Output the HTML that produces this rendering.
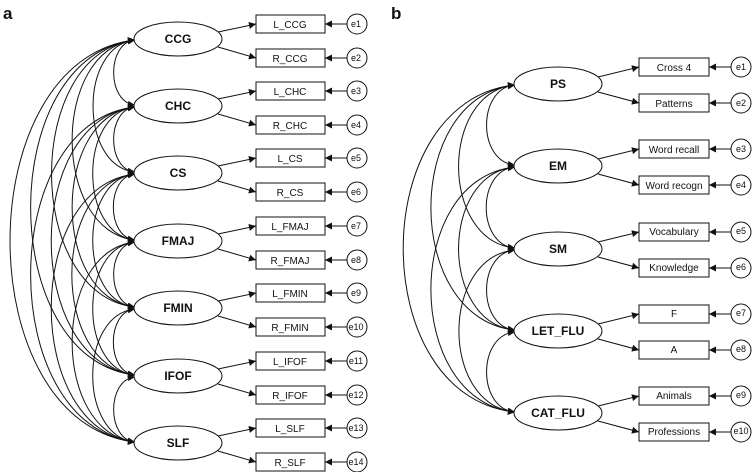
<!DOCTYPE html>
<html><head><meta charset="utf-8"><style>
body{margin:0;background:#fff}
svg{display:block}
text{font-family:"Liberation Sans",sans-serif;fill:#111}
.f{font-weight:bold;font-size:12px}
.m{font-size:10px}
.e{font-size:9px}
</style></head><body>
<svg id="s" width="753" height="472" viewBox="0 0 753 472" xmlns="http://www.w3.org/2000/svg">
<defs>
<marker id="ar" viewBox="0 0 10 10" refX="10" refY="5" markerWidth="9" markerHeight="7" markerUnits="userSpaceOnUse" orient="auto-start-reverse"><path d="M0,0L10,5L0,10z" fill="#111"/></marker>
</defs>
<g id="lines" fill="none" stroke="#111" stroke-width="1"></g>
<text x="3" y="19" style="font-weight:bold;font-size:17px">a</text>
<text x="391" y="19" style="font-weight:bold;font-size:17px">b</text>
<g id="shapes"></g>
<g text-anchor="middle">
<text class="f" x="178" y="43">CCG</text>
<text class="f" x="178" y="110">CHC</text>
<text class="f" x="178" y="177">CS</text>
<text class="f" x="178" y="245">FMAJ</text>
<text class="f" x="178" y="312">FMIN</text>
<text class="f" x="178" y="380">IFOF</text>
<text class="f" x="178" y="447">SLF</text>
<text class="m" x="290" y="28">L_CCG</text><text class="m" x="290" y="62">R_CCG</text>
<text class="m" x="290" y="95">L_CHC</text><text class="m" x="290" y="129">R_CHC</text>
<text class="m" x="290" y="162">L_CS</text><text class="m" x="290" y="196">R_CS</text>
<text class="m" x="290" y="230">L_FMAJ</text><text class="m" x="290" y="264">R_FMAJ</text>
<text class="m" x="290" y="297">L_FMIN</text><text class="m" x="290" y="331">R_FMIN</text>
<text class="m" x="290" y="365">L_IFOF</text><text class="m" x="290" y="399">R_IFOF</text>
<text class="m" x="290" y="432">L_SLF</text><text class="m" x="290" y="466">R_SLF</text>
<text class="e" x="356" y="27">e1</text><text class="e" x="356" y="61">e2</text>
<text class="e" x="356" y="94">e3</text><text class="e" x="356" y="128">e4</text>
<text class="e" x="356" y="161">e5</text><text class="e" x="356" y="195">e6</text>
<text class="e" x="356" y="229">e7</text><text class="e" x="356" y="263">e8</text>
<text class="e" x="356" y="296">e9</text><text class="e" x="356" y="330">e10</text>
<text class="e" x="356" y="364">e11</text><text class="e" x="356" y="398">e12</text>
<text class="e" x="356" y="431">e13</text><text class="e" x="356" y="465">e14</text>
<text class="f" x="558" y="88">PS</text>
<text class="f" x="558" y="170">EM</text>
<text class="f" x="558" y="253">SM</text>
<text class="f" x="558" y="335">LET_FLU</text>
<text class="f" x="558" y="417">CAT_FLU</text>
<text class="m" x="674" y="71">Cross 4</text><text class="m" x="674" y="107">Patterns</text>
<text class="m" x="674" y="153">Word recall</text><text class="m" x="674" y="189">Word recogn</text>
<text class="m" x="674" y="235">Vocabulary</text><text class="m" x="674" y="271">Knowledge</text>
<text class="m" x="674" y="317">F</text><text class="m" x="674" y="353">A</text>
<text class="m" x="674" y="399">Animals</text><text class="m" x="674" y="435">Professions</text>
<text class="e" x="741" y="70">e1</text><text class="e" x="741" y="106">e2</text>
<text class="e" x="741" y="152">e3</text><text class="e" x="741" y="188">e4</text>
<text class="e" x="741" y="234">e5</text><text class="e" x="741" y="270">e6</text>
<text class="e" x="741" y="316">e7</text><text class="e" x="741" y="352">e8</text>
<text class="e" x="741" y="398">e9</text><text class="e" x="741" y="434">e10</text>
</g>
</svg>
<script>
var NS="http://www.w3.org/2000/svg",L=document.getElementById("lines"),S=document.getElementById("shapes");
function el(p,t,a){var e=document.createElementNS(NS,t);for(var k in a)e.setAttribute(k,a[k]);p.appendChild(e);return e;}
function panel(cx,rx,ry,ys,bx,bw,bh,dl,dr,ecx,bf){
 var x0=cx-rx;
 for(var i=0;i<ys.length;i++)for(var j=i+1;j<ys.length;j++){
  var d=ys[j]-ys[i],b=d*bf;
  el(L,"path",{d:"M"+(x0+1)+","+(ys[i]+1)+" C"+(x0-b)+","+(ys[i]+d*0.05)+" "+(x0-b)+","+(ys[j]-d*0.05)+" "+(x0+1)+","+(ys[j]-1),"marker-start":"url(#ar)","marker-end":"url(#ar)"});
 }
 ys.forEach(function(y){
  el(S,"ellipse",{cx:cx,cy:y,rx:rx,ry:ry,fill:"#fff",stroke:"#111"});
  [dl,dr].forEach(function(o,k){
   var by=y+o;
   el(S,"rect",{x:bx,y:by-bh/2,width:bw,height:bh,fill:"#fff",stroke:"#111"});
   el(S,"line",{x1:cx+rx-4,y1:y+(k?8:-7),x2:bx,y2:by,stroke:"#111","marker-end":"url(#ar)"});
   el(S,"circle",{cx:ecx,cy:by,r:10,fill:"#fff",stroke:"#111"});
   el(S,"line",{x1:ecx-10,y1:by,x2:bx+bw,y2:by,stroke:"#111","marker-end":"url(#ar)"});
  });
 });
}
panel(178,44,17,[39,106,173,241,308,376,443],256,69,18,-15,19,357,0.41);
panel(558,44,17,[84,166,249,331,413],639,70,18,-17,19,741,0.45);
</script>
</body></html>
